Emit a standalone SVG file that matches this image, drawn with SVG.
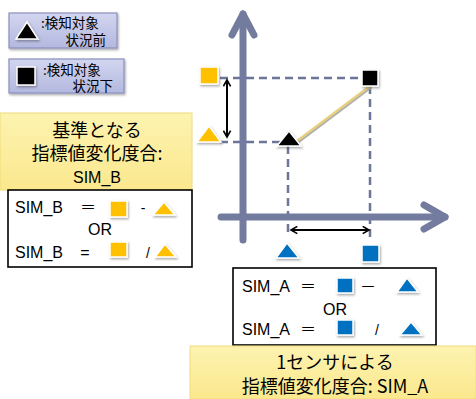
<svg xmlns="http://www.w3.org/2000/svg" width="476" height="399" viewBox="0 0 476 399">
<defs>
<linearGradient id="lav" x1="0" y1="0" x2="0" y2="1"><stop offset="0" stop-color="#d3d6ef"/><stop offset="1" stop-color="#b3b8df"/></linearGradient>
<linearGradient id="yel" x1="0" y1="0" x2="0" y2="1"><stop offset="0" stop-color="#fdf3b0"/><stop offset="1" stop-color="#fbe88e"/></linearGradient>
<filter id="sh" x="-30%" y="-30%" width="160%" height="160%"><feDropShadow dx="1" dy="1.5" stdDeviation="0.8" flood-color="#000" flood-opacity="0.35"/></filter>
<marker id="ah" viewBox="0 0 10 10" refX="8" refY="5" markerWidth="9" markerHeight="9" markerUnits="userSpaceOnUse" orient="auto-start-reverse"><path d="M1,1 L8,5 L1,9" fill="none" stroke="#000" stroke-width="1.8"/></marker>
<style>
.jp{font-family:"Noto Sans CJK JP","Liberation Sans",sans-serif;fill:#000}
.en{font-family:"Liberation Sans","Noto Sans CJK JP",sans-serif;fill:#000}
.axis{stroke:#737b9f;stroke-width:7;fill:none;stroke-linecap:round;stroke-linejoin:round}
.dash{stroke:#6d7599;stroke-width:2.5;fill:none;stroke-dasharray:8 5}
.sym{stroke:#fff;stroke-width:1.5;filter:url(#sh)}
.y{fill:#ffc000}.b{fill:#0070c0}.k{fill:#000}
.legend{fill:url(#lav);stroke:#8b90bd;stroke-width:1.2;filter:url(#sh)}
.ybox{fill:url(#yel);stroke:#f0dc7a;stroke-width:1}
.wbox{fill:#fff;stroke:#000;stroke-width:1.6}
.dbl{stroke:#000;stroke-width:2;fill:none;marker-start:url(#ah);marker-end:url(#ah)}
</style>
</defs>
<rect width="476" height="399" fill="#fff"/>

<g id="legend-before">
<rect class="legend" x="9" y="13" width="108" height="35"/>
<polygon class="sym k" points="27,22 16,39 38,39"/>
<text class="jp" x="41" y="28" font-size="13.5">:検知対象</text>
<text class="jp" x="106" y="45" font-size="13.5" text-anchor="end">状況前</text>
</g>
<g id="legend-after">
<rect class="legend" x="9" y="59" width="115" height="34"/>
<rect class="sym k" x="17" y="67" width="18" height="18"/>
<text class="jp" x="43" y="75" font-size="13.5">:検知対象</text>
<text class="jp" x="113" y="91" font-size="13.5" text-anchor="end">状況下</text>
</g>

<g id="simb-title">
<rect class="ybox" x="0" y="113" width="192" height="77"/>
<text class="jp" x="97" y="137" font-size="18" text-anchor="middle">基準となる</text>
<text class="jp" x="97" y="160" font-size="18" text-anchor="middle">指標値変化度合:</text>
<text class="en" x="97" y="183" font-size="16" text-anchor="middle">SIM_B</text>
</g>
<g id="simb-formula">
<rect class="wbox" x="8" y="190" width="184" height="77"/>
<text class="en" x="15" y="213" font-size="16">SIM_B</text>
<text class="en" x="88" y="213" font-size="16" text-anchor="middle">＝</text>
<rect class="sym y" x="110" y="201" width="17" height="16"/>
<text class="en" x="143" y="213" font-size="14" text-anchor="middle">-</text>
<polygon class="sym y" points="164,202 153,215 175,215"/>
<text class="en" x="100" y="235" font-size="16" text-anchor="middle">OR</text>
<text class="en" x="15" y="258" font-size="16">SIM_B</text>
<text class="en" x="85" y="258" font-size="16" text-anchor="middle">=</text>
<rect class="sym y" x="110" y="242" width="17" height="15"/>
<text class="en" x="148" y="258" font-size="14" text-anchor="middle">/</text>
<polygon class="sym y" points="165,244 155,257 176,257"/>
</g>

<g id="connectors">
<line class="dash" x1="220" y1="78" x2="366" y2="78"/>
<line class="dash" x1="220" y1="142" x2="286" y2="142"/>
<line class="dash" x1="288" y1="146" x2="288" y2="232"/>
<line class="dash" x1="370" y1="86" x2="370" y2="240"/>
<line x1="243" y1="240" x2="243" y2="14" class="axis"/>
<polyline class="axis" points="232,35 243,14 254,35"/>
<line x1="221" y1="217" x2="445" y2="217" class="axis"/>
<polyline class="axis" points="424,205 445,217 424,229"/>
<line x1="297" y1="141" x2="370" y2="86" stroke="#b0b0b0" stroke-width="3" transform="translate(1,1)"/>
<line x1="297" y1="141" x2="370" y2="86" stroke="#e8cf7c" stroke-width="2.2"/>
<line class="dbl" x1="227" y1="80" x2="227" y2="137"/>
<line class="dbl" x1="291" y1="230" x2="369" y2="230"/>
</g>

<g id="point-after">
<rect class="sym k" x="362" y="70" width="16" height="16"/>
</g>
<g id="point-before">
<polygon class="sym k" points="289,131 277,146 301,146"/>
</g>
<g id="y-after">
<rect class="sym y" x="200" y="67" width="18" height="17"/>
</g>
<g id="y-before">
<polygon class="sym y" points="209,126 197,142 221,142"/>
</g>
<g id="x-before">
<polygon class="sym b" points="287,243 276,258 299,258"/>
</g>
<g id="x-after">
<rect class="sym b" x="362" y="245" width="17" height="17"/>
</g>

<g id="sima-formula">
<rect class="wbox" x="233" y="268" width="203" height="77"/>
<text class="en" x="242" y="292" font-size="16">SIM_A</text>
<text class="en" x="308" y="292" font-size="16" text-anchor="middle">＝</text>
<rect class="sym b" x="337" y="278" width="16" height="15"/>
<text class="en" x="368" y="292" font-size="16" text-anchor="middle">－</text>
<polygon class="sym b" points="407,278 397,292 418,292"/>
<text class="en" x="335" y="315" font-size="16" text-anchor="middle">OR</text>
<text class="en" x="242" y="335" font-size="16">SIM_A</text>
<text class="en" x="308" y="335" font-size="16" text-anchor="middle">＝</text>
<rect class="sym b" x="337" y="320" width="16" height="15"/>
<text class="en" x="377" y="335" font-size="14" text-anchor="middle">/</text>
<polygon class="sym b" points="411,322 400,335 422,335"/>
</g>
<g id="sima-title">
<rect class="ybox" x="190" y="346" width="286" height="53"/>
<text class="jp" x="335" y="369" font-size="18" text-anchor="middle">1センサによる</text>
<text class="jp" x="335" y="393" font-size="18" text-anchor="middle">指標値変化度合: SIM_A</text>
</g>
</svg>
